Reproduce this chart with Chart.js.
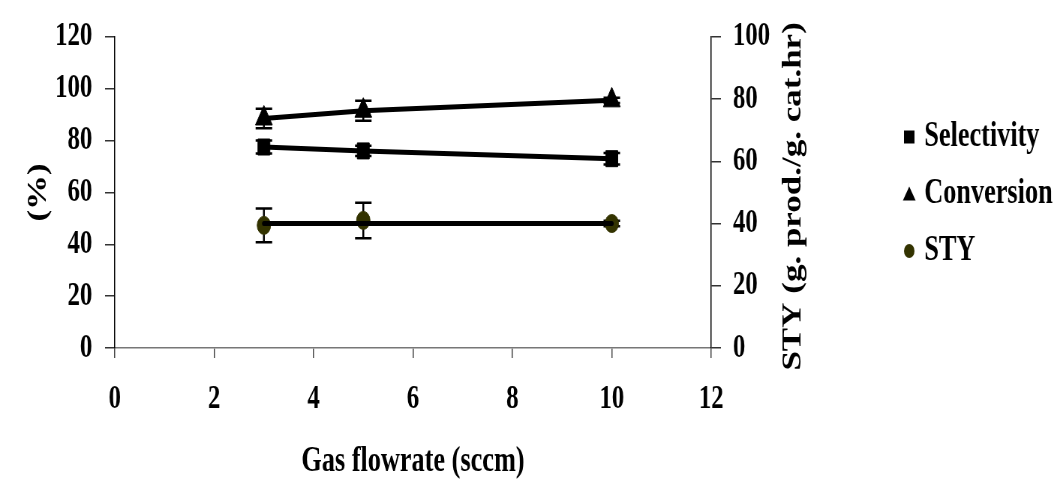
<!DOCTYPE html>
<html>
<head>
<meta charset="utf-8">
<script src="https://cdn.jsdelivr.net/npm/chart.js@4/dist/chart.umd.min.js"></script>
<style>
  html, body { margin: 0; padding: 0; background: #fff; overflow: hidden; }
  #wrap { width: 1057px; height: 479px; overflow: hidden; position: relative; background: #fff; }
  /* the figure is drawn wide and compressed horizontally, like the exported plot */
  #c { display: block; transform: scaleX(0.7502); transform-origin: 0 0; }
</style>
</head>
<body>
<div id="wrap"><canvas id="c" width="1409" height="479"></canvas></div>
<script>
// Gas flowrate (sccm)
const flowRates = [3, 5, 10];

// Selectivity and conversion, % (left axis)
const selectivity = [77.5, 76, 73];
const selectivityErr = [2.5, 2, 2.2];
const conversion = [88.5, 91.5, 95.5];
const conversionErr = [3.75, 3.85, 1];

// Space-time yield, g prod./g cat.hr (right axis)
const sty = [39.4, 41, 40];
const styErr = [5.4, 5.7, 0.9];
const styFit = [40, 40, 40];

// Tick labels
const xTicks = [0, 2, 4, 6, 8, 10, 12];
const leftTicks = [0, 20, 40, 60, 80, 100, 120];
const rightTicks = [0, 20, 40, 60, 80, 100];

const seriesNames = ['Selectivity', 'Conversion', 'STY'];
const xTitle = 'Gas flowrate (sccm)';
const leftTitle = '(%)';
const rightTitle = 'STY (g. prod./g. cat.hr)';

const FAMILY = "'Liberation Serif', 'Times New Roman', serif";
const tickFont = { family: FAMILY, size: 33, weight: 'bold' };
const titleFont = { family: FAMILY, size: 35, weight: 'bold', lineHeight: 1 };

const pairs = (xs, ys) => xs.map((x, i) => ({ x: x, y: ys[i] }));
const setTicks = (vals) => (scale) => { scale.ticks = vals.map(v => ({ value: v })); };

// vertical error bars with caps, drawn underneath the markers
const errorBars = {
  id: 'errorBars',
  beforeDatasetsDraw(chart) {
    const ctx = chart.ctx;
    chart.data.datasets.forEach((ds, i) => {
      if (!ds.errors) return;
      const meta = chart.getDatasetMeta(i);
      const yScale = chart.scales[ds.yAxisID];
      ctx.save();
      ctx.strokeStyle = '#000';
      ctx.lineWidth = 2.5;
      meta.data.forEach((pt, j) => {
        const v = ds.data[j].y, e = ds.errors[j];
        const yTop = yScale.getPixelForValue(v + e);
        const yBot = yScale.getPixelForValue(v - e);
        const x = pt.x, cap = 11;
        ctx.beginPath();
        ctx.moveTo(x, yTop); ctx.lineTo(x, yBot);
        ctx.moveTo(x - cap, yTop); ctx.lineTo(x + cap, yTop);
        ctx.moveTo(x - cap, yBot); ctx.lineTo(x + cap, yBot);
        ctx.stroke();
      });
      ctx.restore();
    });
  }
};

// legend column on the right and the bottom-to-top right axis title
const sideLegend = {
  id: 'sideLegend',
  afterDraw(chart) {
    const ctx = chart.ctx;
    const area = chart.chartArea;
    const items = chart.data.datasets.filter(d => !d.hideInLegend);
    ctx.save();
    ctx.textBaseline = 'middle';
    ctx.textAlign = 'left';
    ctx.font = 'bold 35px ' + FAMILY;
    const mx = area.right + 264, tx = area.right + 284;
    items.forEach((ds, k) => {
      const y = 137 + k * 57;
      ctx.fillStyle = ds.backgroundColor;
      ctx.beginPath();
      if (ds.pointStyle === 'rect') {
        ctx.rect(mx - 7, y - 6.5, 14, 13);
      } else if (ds.pointStyle === 'triangle') {
        ctx.moveTo(mx, y - 7.5); ctx.lineTo(mx + 8.5, y + 6.5); ctx.lineTo(mx - 8.5, y + 6.5); ctx.closePath();
      } else {
        ctx.arc(mx, y, 7, 0, Math.PI * 2);
      }
      ctx.fill();
      ctx.fillStyle = '#000';
      ctx.fillText(ds.label, tx, y);
    });
    ctx.font = 'bold 35px ' + FAMILY;
    ctx.textAlign = 'center';
    ctx.translate(area.right + 110, (area.top + area.bottom) / 2 + 4);
    ctx.rotate(-Math.PI / 2);
    ctx.fillText(rightTitle, 0, 0);
    ctx.restore();
  }
};

new Chart(document.getElementById('c'), {
  type: 'line',
  data: {
    datasets: [
      {
        label: seriesNames[0], data: pairs(flowRates, selectivity), errors: selectivityErr,
        yAxisID: 'y', borderColor: '#000', backgroundColor: '#000', borderWidth: 5,
        borderCapStyle: 'round', pointStyle: 'rect', pointRadius: 11.3,
        pointBorderWidth: 1, pointBorderColor: '#000', pointBackgroundColor: '#000'
      },
      {
        label: seriesNames[1], data: pairs(flowRates, conversion), errors: conversionErr,
        yAxisID: 'y', borderColor: '#000', backgroundColor: '#000', borderWidth: 5,
        borderCapStyle: 'round', pointStyle: 'triangle', pointRadius: 13,
        pointBorderWidth: 1, pointBorderColor: '#000', pointBackgroundColor: '#000'
      },
      {
        label: 'STY fit', data: pairs(flowRates, styFit), hideInLegend: true,
        yAxisID: 'y2', borderColor: '#000', backgroundColor: '#000', borderWidth: 5,
        borderCapStyle: 'round', pointRadius: 0
      },
      {
        label: seriesNames[2], data: pairs(flowRates, sty), errors: styErr,
        yAxisID: 'y2', showLine: false, borderColor: '#333300', backgroundColor: '#333300',
        pointStyle: 'circle', pointRadius: 9, pointBorderWidth: 1,
        pointBorderColor: '#333300', pointBackgroundColor: '#333300'
      }
    ]
  },
  options: {
    responsive: false,
    animation: false,
    devicePixelRatio: 1,
    layout: { padding: { top: 29, left: 0, right: 0, bottom: 0 } },
    plugins: { legend: { display: false }, tooltip: { enabled: false } },
    scales: {
      x: {
        type: 'linear', position: 'bottom', min: 0, max: 12,
        afterBuildTicks: setTicks(xTicks),
        afterFit(s) { s.height = 131; },
        grid: { drawOnChartArea: false, drawTicks: true, tickLength: 10, color: '#444', lineWidth: 1.5 },
        border: { color: '#777', width: 1.5 },
        ticks: { font: tickFont, color: '#000', padding: 22, maxRotation: 0 },
        title: { display: true, text: xTitle, font: titleFont, color: '#000', padding: { top: 0, bottom: 0 } }
      },
      y: {
        type: 'linear', position: 'left', min: 0, max: 120,
        afterBuildTicks: setTicks(leftTicks),
        afterFit(s) { s.width = 153; },
        grid: { drawOnChartArea: false, drawTicks: true, tickLength: 13, color: '#333', lineWidth: 1.5 },
        border: { color: '#000', width: 1.5 },
        ticks: { font: tickFont, color: '#000', padding: 17 },
        title: { display: true, text: leftTitle, font: titleFont, color: '#000', padding: { top: 34, bottom: 0 } }
      },
      y2: {
        type: 'linear', position: 'right', min: 0, max: 100,
        afterBuildTicks: setTicks(rightTicks),
        afterFit(s) { s.width = 461; },
        grid: { drawOnChartArea: false, drawTicks: true, tickLength: 13, color: '#333', lineWidth: 1.5 },
        border: { color: '#000', width: 1.5 },
        ticks: { font: tickFont, color: '#000', padding: 16 }
      }
    }
  },
  plugins: [errorBars, sideLegend]
});
</script>
</body>
</html>
